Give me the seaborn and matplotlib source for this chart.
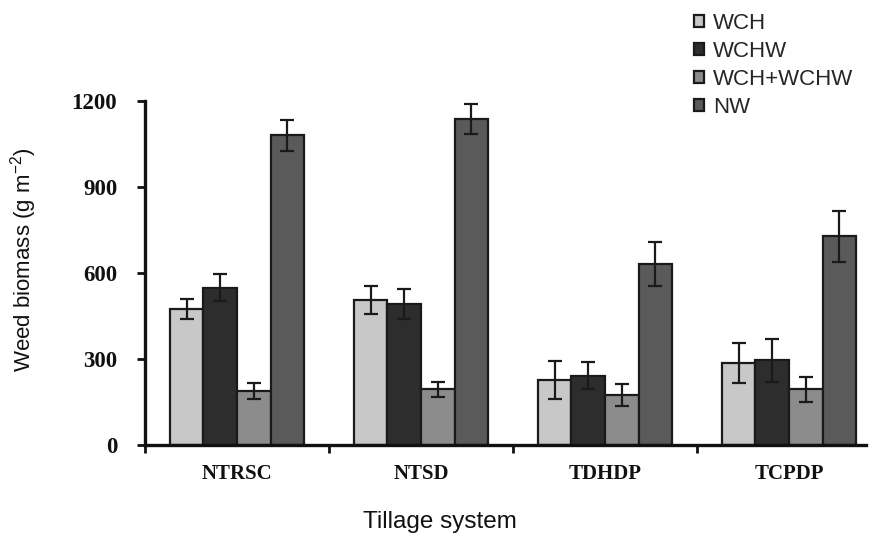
import numpy as np
import pandas as pd
import matplotlib
matplotlib.use("Agg")
import matplotlib.pyplot as plt
from matplotlib.patches import Patch
import seaborn as sns

# data
systems = ["NTRSC", "NTSD", "TDHDP", "TCPDP"]
treatments = ["WCH", "WCHW", "WCH+WCHW", "NW"]
wch = [475, 506, 227, 286]
wchw = [548, 492, 242, 295]
wch_wchw = [189, 194, 174, 194]
nw = [1080, 1137, 632, 728]
wch_err = [36, 49, 65, 69]
wchw_err = [47, 53, 48, 75]
wch_wchw_err = [28, 26, 39, 44]
nw_err = [54, 53, 76, 88]

colors = ["#c8c8c8", "#2d2d2d", "#8c8c8c", "#5a5a5a"]
edge = "#1a1a1a"


def main():
    sns.set_theme(style="white")
    plt.rcParams["font.family"] = ["Liberation Sans", "DejaVu Sans"]
    plt.rcParams["mathtext.fontset"] = "custom"
    plt.rcParams["mathtext.rm"] = "Liberation Sans"
    plt.rcParams["mathtext.default"] = "rm"

    values = [wch, wchw, wch_wchw, nw]
    errors = [wch_err, wchw_err, wch_wchw_err, nw_err]
    rows = []
    for t, vals, errs in zip(treatments, values, errors):
        for s, v, e in zip(systems, vals, errs):
            rows.append({"system": s, "treatment": t, "biomass": v, "err": e})
    df = pd.DataFrame(rows)

    fig = plt.figure(figsize=(8.7, 5.33), dpi=100)
    ax = fig.add_axes([145 / 870, 88 / 533, 721 / 870, 344 / 533])

    sns.barplot(data=df, x="system", y="biomass", hue="treatment",
                hue_order=treatments, palette=colors, width=0.73,
                errorbar=None, edgecolor=edge, linewidth=1.6,
                legend=False, ax=ax)

    # error bars on the bar centres
    for cont, t in zip(ax.containers, treatments):
        sub = df[df["treatment"] == t]
        xs = [b.get_x() + b.get_width() / 2 for b in cont]
        ax.errorbar(xs, sub["biomass"].values, yerr=sub["err"].values,
                    fmt="none", ecolor=edge, elinewidth=1.6,
                    capsize=5, capthick=1.6, zorder=5)

    ax.set_ylim(0, 1200)
    ax.set_xlim(-0.5, -0.5 + 721 / 184)
    ax.set_yticks([0, 300, 600, 900, 1200])
    ax.set_xticks(range(len(systems)))
    ax.set_xticklabels(systems)
    ax.set_xticks([-0.5, 0.5, 1.5, 2.5], minor=True)

    for side in ["top", "right"]:
        ax.spines[side].set_visible(False)
    for side in ["left", "bottom"]:
        ax.spines[side].set_linewidth(2.4)
        ax.spines[side].set_color("#111111")

    ax.tick_params(axis="y", which="major", direction="out", length=6,
                   width=2, color="#111111", pad=14, left=True)
    ax.tick_params(axis="x", which="major", length=0, pad=14)
    ax.tick_params(axis="x", which="minor", direction="out", length=6,
                   width=2, color="#111111", bottom=True)
    for lab in ax.get_yticklabels():
        lab.set_fontfamily("Liberation Serif")
        lab.set_fontweight("bold")
        lab.set_fontsize(16.5)
        lab.set_color("#111111")
    for lab in ax.get_xticklabels():
        lab.set_fontfamily("Liberation Serif")
        lab.set_fontweight("bold")
        lab.set_fontsize(15)
        lab.set_color("#111111")

    ax.set_xlabel("")
    ax.set_ylabel("")
    fig.text(440 / 870, 1 - 528 / 533, "Tillage system", ha="center",
             va="baseline", fontsize=17.5, color="#111111")
    fig.text(24 / 870, 1 - 260 / 533, "Weed biomass (g m$^{-2}$)",
             rotation=90, ha="center", va="center", fontsize=16,
             color="#111111")

    handles = [Patch(facecolor=c, edgecolor=edge, linewidth=1.6)
               for c in colors]
    fig.legend(handles, treatments, loc="upper left",
               bbox_to_anchor=(694 / 870, 1 - 13 / 533), frameon=False,
               fontsize=16, handlelength=0.45, handleheight=0.45,
               handletextpad=0.4, labelspacing=0.31, borderaxespad=0,
               borderpad=0)

    fig.savefig("out.png", dpi=100, facecolor="white")


if __name__ == "__main__":
    main()
